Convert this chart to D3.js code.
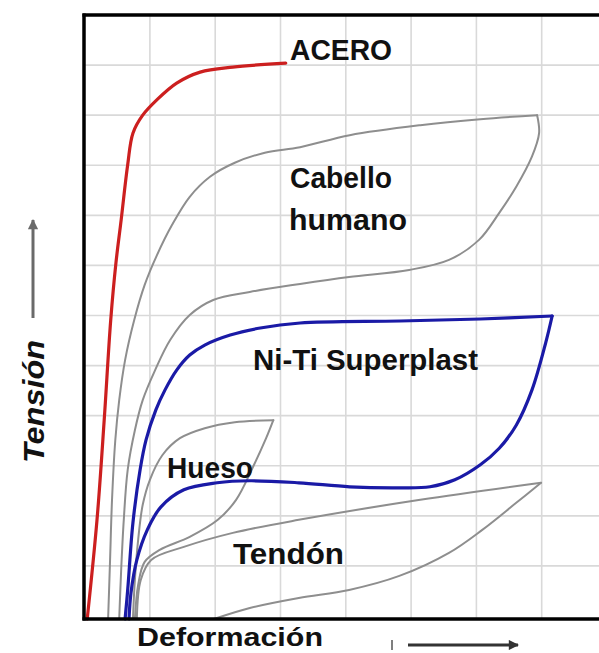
<!DOCTYPE html>
<html>
<head>
<meta charset="utf-8">
<script src="https://cdn.jsdelivr.net/npm/d3@7"></script>
<style>
  html, body { margin: 0; padding: 0; background: #fff; }
  svg { display: block; }
  text { font-family: "Liberation Sans", Arial, sans-serif; font-weight: bold; fill: #111; }
</style>
</head>
<body>
<svg id="chart" width="599" height="653"></svg>
<script>
// ---- data (deformation units on x, tension units on y) ----
const xTicks = [0, 1, 2, 3, 4, 5, 6, 7, 8];
const yTicks = [0, 1, 2, 3, 4, 5, 6, 7, 8, 9, 10, 11, 12];

const aceroX = [0.04, 0.19, 0.30, 0.40, 0.48, 0.56, 0.66, 0.74, 0.89, 1.11, 1.41, 1.77, 2.27, 3.08];
const aceroY = [-0.06, 1.92, 3.91, 5.91, 7.05, 7.91, 9.01, 9.64, 10.00, 10.31, 10.64, 10.86, 10.96, 11.04];

// loops: loading branch then unloading branch (tip shared)
const cabelloLoadX = [0.36, 0.39, 0.42, 0.47, 0.53, 0.62, 0.76, 0.92, 1.11, 1.34, 1.61, 1.92, 2.30, 2.76, 3.30, 4.06, 5.14, 6.06, 6.93];
const cabelloLoadY = [-0.06, 1.12, 2.32, 3.51, 4.31, 5.11, 5.91, 6.61, 7.21, 7.81, 8.37, 8.77, 9.05, 9.25, 9.36, 9.60, 9.80, 9.92, 10.00];
const cabelloUnloadX = [6.93, 6.96, 6.85, 6.61, 6.35, 6.04, 5.58, 4.97, 4.05, 3.30, 2.53, 1.97, 1.61, 1.31, 1.08, 0.89, 0.77, 0.66, 0.60, 0.56, 0.53];
const cabelloUnloadY = [10.00, 9.64, 9.17, 8.57, 8.05, 7.51, 7.11, 6.91, 6.77, 6.63, 6.47, 6.31, 6.01, 5.51, 4.91, 4.31, 3.71, 2.92, 1.92, 0.92, -0.06];

const nitiLoadX = [0.62, 0.66, 0.74, 0.85, 0.94, 1.09, 1.23, 1.41, 1.61, 1.84, 2.23, 2.69, 3.30, 4.83, 6.06, 7.16];
const nitiLoadY = [-0.06, 0.52, 1.86, 2.92, 3.51, 4.11, 4.51, 4.91, 5.21, 5.41, 5.61, 5.75, 5.85, 5.89, 5.93, 5.99];
const nitiUnloadX = [7.16, 7.06, 6.85, 6.61, 6.35, 6.06, 5.67, 5.29, 4.77, 4.06, 3.28, 2.53, 2.03, 1.52, 1.17, 0.96, 0.80, 0.71, 0.68];
const nitiUnloadY = [5.99, 5.45, 4.51, 3.81, 3.35, 3.02, 2.72, 2.58, 2.56, 2.58, 2.66, 2.70, 2.66, 2.52, 2.18, 1.72, 1.12, 0.46, -0.06];

const huesoLoadX = [0.74, 0.77, 0.82, 0.89, 1.00, 1.19, 1.46, 1.84, 2.30, 2.89];
const huesoLoadY = [-0.06, 0.72, 1.52, 2.22, 2.72, 3.21, 3.55, 3.75, 3.87, 3.91];
const huesoUnloadX = [2.89, 2.78, 2.58, 2.32, 2.04, 1.61, 1.15, 0.92, 0.82, 0.77];
const huesoUnloadY = [3.91, 3.55, 2.98, 2.32, 1.92, 1.58, 1.32, 1.08, 0.62, -0.06];

const tendonLoadX = [1.98, 2.53, 3.28, 4.05, 4.82, 5.58, 6.09, 6.61, 6.99];
const tendonLoadY = [-0.06, 0.16, 0.36, 0.52, 0.80, 1.26, 1.72, 2.26, 2.66];
const tendonUnloadX = [6.99, 5.14, 3.28, 2.27, 1.52, 1.02, 0.86, 0.80];
const tendonUnloadY = [2.66, 2.32, 1.92, 1.66, 1.38, 1.12, 0.72, -0.06];

const seriesNames = ["ACERO", "Cabello humano", "Ni-Ti Superplast", "Hueso", "Tendón"];
const xTitle = "Deformación";
const yTitle = "Tensión";

// ---- drawing ----
const svg = d3.select("#chart");
const x = d3.scaleLinear().domain([0, 8]).range([84.6, 607]);
const y = d3.scaleLinear().domain([0, 12]).range([616, 15]);

// grid
const grid = svg.append("g");
grid.selectAll("line.v").data(xTicks.slice(1)).join("line")
  .attr("x1", d => x(d)).attr("x2", d => x(d)).attr("y1", 15).attr("y2", 619)
  .attr("stroke", "#d9d9d9").attr("stroke-width", 1.6);
grid.selectAll("line.h").data(yTicks.slice(1, -1)).join("line")
  .attr("y1", d => y(d)).attr("y2", d => y(d)).attr("x1", 84).attr("x2", 599)
  .attr("stroke", "#d9d9d9").attr("stroke-width", 1.6);

const zip = (xs, ys) => xs.map((v, i) => [v, ys[i]]);
const line = d3.line().x(d => x(d[0])).y(d => y(d[1])).curve(d3.curveCatmullRom.alpha(0.5));

const gray = "#8e8e8e", blue = "#1a1aa6", red = "#cc1f1f";
const curves = [
  { pts: zip(tendonLoadX, tendonLoadY), color: gray, w: 2 },
  { pts: zip(tendonUnloadX, tendonUnloadY), color: gray, w: 2 },
  { pts: zip(huesoLoadX, huesoLoadY), color: gray, w: 2 },
  { pts: zip(huesoUnloadX, huesoUnloadY), color: gray, w: 2 },
  { pts: zip(cabelloLoadX, cabelloLoadY), color: gray, w: 2 },
  { pts: zip(cabelloUnloadX, cabelloUnloadY), color: gray, w: 2 },
  { pts: zip(nitiLoadX, nitiLoadY), color: blue, w: 3.2 },
  { pts: zip(nitiUnloadX, nitiUnloadY), color: blue, w: 3.2 },
  { pts: zip(aceroX, aceroY), color: red, w: 3.2 }
];
svg.append("g").selectAll("path").data(curves).join("path")
  .attr("d", d => line(d.pts))
  .attr("fill", "none")
  .attr("stroke", d => d.color)
  .attr("stroke-width", d => d.w)
  .attr("stroke-linejoin", "round")
  .attr("stroke-linecap", "round");

// frame: left, top, bottom
const frame = svg.append("g").attr("stroke", "#000").attr("stroke-width", 3.5);
frame.append("line").attr("x1", 84).attr("x2", 84).attr("y1", 13.5).attr("y2", 620.5);
frame.append("line").attr("x1", 82.5).attr("x2", 599).attr("y1", 15).attr("y2", 15);
frame.append("line").attr("x1", 82.5).attr("x2", 599).attr("y1", 619).attr("y2", 619);

// labels
const labels = [
  { t: seriesNames[0], x: 290, y: 60, len: 102 },
  { t: "Cabello", x: 290, y: 188, len: 102 },
  { t: "humano", x: 289, y: 230, len: 118 },
  { t: seriesNames[2], x: 253, y: 370, len: 225 },
  { t: seriesNames[3], x: 167, y: 478, len: 86 },
  { t: seriesNames[4], x: 233, y: 564, len: 111 }
];
svg.append("g").selectAll("text").data(labels).join("text")
  .attr("x", d => d.x).attr("y", d => d.y)
  .attr("font-size", 29)
  .attr("textLength", d => d.len)
  .attr("lengthAdjust", "spacingAndGlyphs")
  .text(d => d.t);

// axis titles
svg.append("text").attr("x", 137).attr("y", 646).attr("font-size", 26)
  .attr("textLength", 186).attr("lengthAdjust", "spacingAndGlyphs").text(xTitle);
svg.append("text").attr("transform", "translate(44,463) rotate(-90)")
  .attr("font-size", 30).attr("font-style", "italic")
  .attr("textLength", 123).attr("lengthAdjust", "spacingAndGlyphs").text(yTitle);

// arrows
const defs = svg.append("defs");
defs.append("marker").attr("id", "ah").attr("viewBox", "0 0 10 10").attr("refX", 9).attr("refY", 5)
  .attr("markerWidth", 4).attr("markerHeight", 3.4).attr("orient", "auto")
  .append("path").attr("d", "M0,0 L10,5 L0,10 z").attr("fill", "#333");
defs.append("marker").attr("id", "ah2").attr("viewBox", "0 0 10 10").attr("refX", 9).attr("refY", 5)
  .attr("markerWidth", 4).attr("markerHeight", 3.4).attr("orient", "auto")
  .append("path").attr("d", "M0,0 L10,5 L0,10 z").attr("fill", "#6a6a6a");

svg.append("line").attr("x1", 408).attr("x2", 518).attr("y1", 645).attr("y2", 645)
  .attr("stroke", "#333").attr("stroke-width", 3).attr("marker-end", "url(#ah)");
svg.append("line").attr("x1", 392).attr("x2", 392).attr("y1", 640).attr("y2", 650)
  .attr("stroke", "#555").attr("stroke-width", 1.5);
svg.append("line").attr("x1", 33).attr("x2", 33).attr("y1", 318).attr("y2", 220)
  .attr("stroke", "#6a6a6a").attr("stroke-width", 3).attr("marker-end", "url(#ah2)");
</script>
</body>
</html>
